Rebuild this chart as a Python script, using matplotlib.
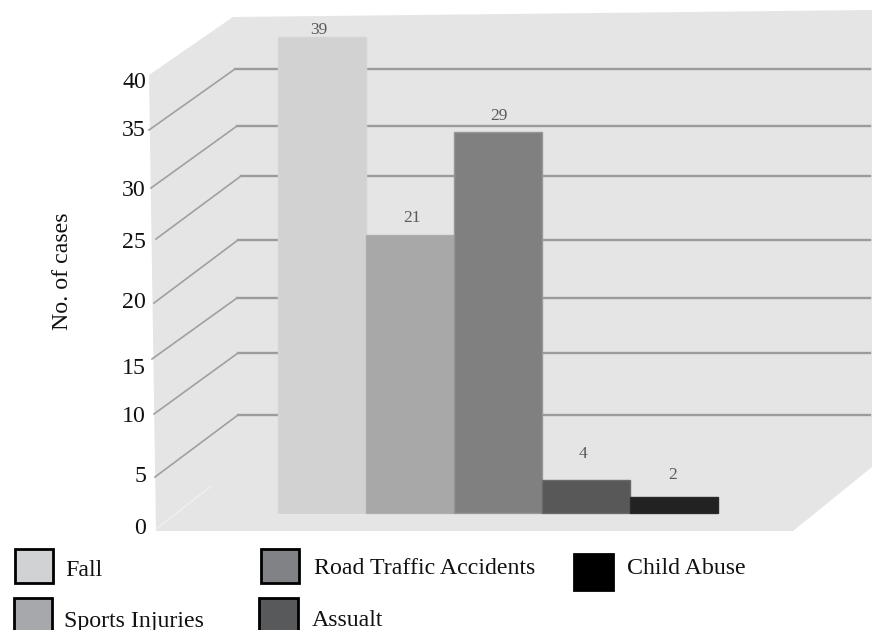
import matplotlib
matplotlib.use("Agg")
import matplotlib.pyplot as plt
import numpy as np
from matplotlib.patches import Polygon, Rectangle

# Injury mechanisms and case counts
categories = ["Fall", "Sports Injuries", "Road Traffic Accidents", "Assualt", "Child Abuse"]
cases = [39, 21, 29, 4, 2]
y_ticks = [0, 5, 10, 15, 20, 25, 30, 35, 40]
y_title = "No. of cases"

# Styling
bar_colors = ["#d2d2d2", "#a8a8a8", "#808080", "#585858", "#222222"]
bar_edges = ["#d4d4d4", "#adadad", "#979797", "#6a6a6a", "#2a2a2a"]
swatch_colors = ["#d1d2d4", "#a7a8ab", "#808285", "#58595b", "#000000"]
WALL = "#e5e5e5"
GRID = "#9b9b9b"
SERIF = "Liberation Serif"

W, H = 874, 630
plt.rcParams["font.family"] = SERIF
fig = plt.figure(figsize=(W / 100, H / 100), dpi=100, facecolor="white")


def pixel_axes(left, top, right, bottom):
    """Axes placed by its pixel box, measured from the top-left of the figure."""
    return fig.add_axes([left / W, 1 - bottom / H, (right - left) / W, (bottom - top) / H])


def warped(ax, stops_in, stops_out):
    """Piecewise value axis: the perspective drawing does not space values evenly."""
    ax.set_yscale("function", functions=(
        lambda v: np.interp(v, stops_in, stops_out),
        lambda h: np.interp(h, stops_out, stops_in),
    ))


# Backdrop: the perspective box, in figure pixels
wall = pixel_axes(0, 0, W, H)
wall.set_xlim(0, W)
wall.set_ylim(H, 0)
wall.axis("off")
wall.add_patch(Polygon([(149, 75), (233, 17), (872, 10), (872, 467), (793, 531), (156, 531)],
                       closed=True, facecolor=WALL, edgecolor="none"))
wall.plot([156, 210], [529, 487], color="#f0f0f0", lw=1.0)
wall.plot([278, 718], [514, 514], color="#ebebeb", lw=1.0)

back_y = [69, 126, 176, 240, 298, 353, 415]
back_x = [235, 237, 241, 238, 237, 238, 238]
front_y = [130, 188, 239, 303, 359, 414, 477]
front_x = [149, 151, 156, 154, 152, 154, 155]
for bx, by, fx, fy in zip(back_x, back_y, front_x, front_y):
    wall.plot([870, bx], [by, by], color=GRID, lw=1.7)
    wall.plot([bx, fx], [by, fy], color="#a0a0a0", lw=1.2)

# Bars on their own value axis
ax = pixel_axes(278, 10, 718, 513)
ax.patch.set_visible(False)
warped(ax, [0, 2, 4, 21, 29, 39, 41.5], [0, 16, 33, 278, 381, 476, 503])
ax.set_ylim(0, 41.5)
ax.set_xlim(-0.5, 4.5)
ax.axis("off")
positions = np.arange(len(cases))
ax.bar(positions, cases, width=1.0, color=bar_colors, edgecolor=bar_edges, linewidth=1.0, clip_on=False)

label_offsets = [(-3, 7), (2, 17), (1, 16), (-3, 26), (-1, 22)]
for pos, value, (dx, dy) in zip(positions, cases, label_offsets):
    ax.annotate(str(value), (pos, value), xytext=(dx, dy), textcoords="offset pixels",
                ha="center", va="center", fontsize=12.5, color="#5a5a5a")

# Value ticks sit along the front edge of the box
ticks = pixel_axes(146, 80, 147, 526)
ticks.patch.set_visible(False)
warped(ticks, y_ticks, [0, 52, 112, 160, 226, 286, 338, 398, 446])
ticks.set_ylim(0, 40)
ticks.set_yticks(y_ticks)
ticks.set_xticks([])
ticks.tick_params(axis="y", length=0, pad=0, labelsize=17.2, labelcolor="#111111")
for spine in ticks.spines.values():
    spine.set_visible(False)

fig.text(63 / W, 1 - 271 / H, y_title, rotation=90, ha="center", va="center",
         fontsize=17.2, color="#111111")

# Hand-placed legend, two rows and three columns
swatch_boxes = [(15, 549, 53, 583), (14, 598, 52, 634), (261, 549, 299, 583),
                (259, 598, 298, 634), (574, 554, 613, 590)]
text_anchors = [(65, 571), (64, 621), (314, 569), (312, 620), (627, 569)]
for name, color, (x0, y0, x1, y1), (tx, ty) in zip(categories, swatch_colors, swatch_boxes, text_anchors):
    wall.add_patch(Rectangle((x0, y0), x1 - x0, y1 - y0, facecolor=color,
                             edgecolor="black", linewidth=2.0))
    wall.text(tx, ty, name, ha="left", va="center", fontsize=17.2, color="#111111")

fig.savefig("out.png", dpi=100)
